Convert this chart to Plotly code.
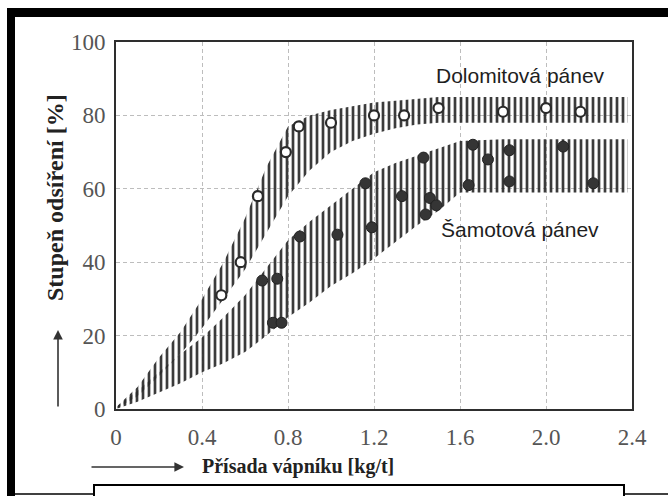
import plotly.graph_objects as go

# ---------------- data ----------------
band_x = [0, 0.1, 0.2, 0.3, 0.4, 0.5, 0.6, 0.7, 0.8, 0.9, 1.0, 1.1, 1.2, 1.3, 1.4, 1.5, 1.6, 1.8, 2.0, 2.2, 2.38]
dolo_low = [0, 3.5, 9, 15, 22, 30, 38, 48, 58, 65, 70, 73, 75, 76.5, 77.5, 78, 78, 78, 78, 78, 78]
dolo_high = [0.5, 6, 14, 21, 30, 40, 52, 66, 77, 80, 81.5, 82.5, 83.5, 84, 84.5, 85, 85, 85, 85, 85, 85]
samot_low = [0, 2, 4.5, 7, 10, 12.5, 15.5, 20, 25, 29, 33.5, 37, 41, 45.5, 50, 54, 59, 59, 59, 59, 59]
samot_high = [0.5, 5, 10, 15, 19.5, 25, 31, 38.5, 46, 51, 55.5, 60, 64.5, 67, 69, 71, 73, 73.5, 73.5, 73.5, 73.5]

dolo_x = [0.49, 0.58, 0.66, 0.79, 0.85, 1.0, 1.2, 1.34, 1.5, 1.8, 2.0, 2.16]
dolo_y = [31, 40, 58, 70, 77, 78, 80, 80, 82, 81, 82, 81]

samot_x = [0.68, 0.73, 0.75, 0.77, 0.855, 1.03, 1.16, 1.19, 1.33, 1.43, 1.44, 1.46, 1.49,
           1.64, 1.66, 1.73, 1.83, 1.83, 2.08, 2.22]
samot_y = [35, 23.5, 35.5, 23.5, 47, 47.5, 61.5, 49.5, 58, 68.5, 53, 57.5, 55.5,
           61, 72, 68, 70.5, 62, 71.5, 61.5]

x_ticks = [0, 0.4, 0.8, 1.2, 1.6, 2.0, 2.4]
x_ticktext = ["0", "0.4", "0.8", "1.2", "1.6", "2.0", "2.4"]
y_ticks = [0, 20, 40, 60, 80, 100]

label_dolo = "Dolomitová pánev"
label_samot = "Šamotová pánev"
x_title = "Přísada vápníku [kg/t]"
y_title = "Stupeň odsíření [%]"

# ---------------- layout geometry (pixels) ----------------
W, H = 668, 496
L, R, T, B = 116, 632, 42, 409  # plot area in pixels


def px(xp):
    return (xp - L) / (R - L)


def py(yp):
    return (B - yp) / (B - T)


SERIF = "Liberation Serif"
SANS = "Liberation Sans"

fig = go.Figure()

pattern = dict(shape="|", size=6, solidity=0.45, fgcolor="#2a2a2a",
               bgcolor="rgba(255,255,255,0)", fgopacity=0.92)

for lo, hi in [(dolo_low, dolo_high), (samot_low, samot_high)]:
    fig.add_trace(go.Scatter(
        x=band_x + band_x[::-1], y=hi + lo[::-1],
        mode="lines", fill="toself", line=dict(width=0),
        fillcolor="rgba(255,255,255,0)", fillpattern=pattern,
        hoverinfo="skip", showlegend=False))

fig.add_trace(go.Scatter(
    x=dolo_x, y=dolo_y, mode="markers", showlegend=False,
    marker=dict(symbol="circle", size=10, color="white",
                line=dict(color="#2a2a2a", width=2.2))))
fig.add_trace(go.Scatter(
    x=samot_x, y=samot_y, mode="markers", showlegend=False,
    marker=dict(symbol="circle", size=11, color="#353535",
                line=dict(color="#222", width=1))))

axis_common = dict(
    showgrid=True, gridcolor="#bdbdbd", griddash="4px,3px", gridwidth=1,
    showline=True, mirror=True, linecolor="#2e2e2e", linewidth=2,
    zeroline=False, ticks="",
    tickfont=dict(family=SERIF, size=23, color="#555"),
)

fig.update_xaxes(range=[0, 2.4], tickvals=x_ticks, ticktext=x_ticktext,
                 ticklabelstandoff=6, **axis_common)
fig.update_yaxes(range=[0, 100], tickvals=y_ticks, ticklabelstandoff=4, **axis_common)

annotations = [
    dict(x=1.88, y=91, xref="x", yref="y", text=label_dolo, showarrow=False,
         font=dict(family=SANS, size=21, color="#1e1e1e")),
    dict(x=1.88, y=49, xref="x", yref="y", text=label_samot, showarrow=False,
         font=dict(family=SANS, size=21, color="#1e1e1e")),
    dict(x=px(55), y=py(198), xref="paper", yref="paper", text="<b>" + y_title + "</b>",
         textangle=-90, showarrow=False, xanchor="center", yanchor="middle",
         font=dict(family=SERIF, size=24, color="#222")),
    dict(x=px(200), y=py(467), xref="paper", yref="paper", text="<b>" + x_title + "</b>",
         showarrow=False, xanchor="left", yanchor="middle",
         font=dict(family=SERIF, size=20, color="#222")),
    # axis arrows
    dict(x=px(58), y=py(330), xref="paper", yref="paper", ax=0, ay=78, text="",
         showarrow=True, arrowhead=2, arrowsize=1.2, arrowwidth=1.6, arrowcolor="#333"),
    dict(x=px(184), y=py(467), xref="paper", yref="paper", ax=-94, ay=0, text="",
         showarrow=True, arrowhead=2, arrowsize=1.2, arrowwidth=1.6, arrowcolor="#333"),
]

shapes = [
    # thick outer frame: top and left
    dict(type="rect", xref="paper", yref="paper", x0=px(7), x1=px(672), y0=py(17), y1=py(8),
         fillcolor="black", line=dict(width=0), layer="above"),
    dict(type="rect", xref="paper", yref="paper", x0=px(7), x1=px(15), y0=py(500), y1=py(8),
         fillcolor="black", line=dict(width=0), layer="above"),
    # thin bottom line
    dict(type="line", xref="paper", yref="paper", x0=px(15), x1=px(672), y0=py(494), y1=py(494),
         line=dict(color="black", width=1.5), layer="above"),
    # white box at bottom
    dict(type="rect", xref="paper", yref="paper", x0=px(94), x1=px(624), y0=py(505), y1=py(485),
         fillcolor="white", line=dict(color="black", width=2), layer="above"),
]

fig.update_layout(
    width=W, height=H,
    margin=dict(l=L, r=W - R, t=T, b=H - B, autoexpand=False),
    paper_bgcolor="white", plot_bgcolor="white",
    showlegend=False,
    annotations=annotations, shapes=shapes,
)

fig.write_html("out.html")
